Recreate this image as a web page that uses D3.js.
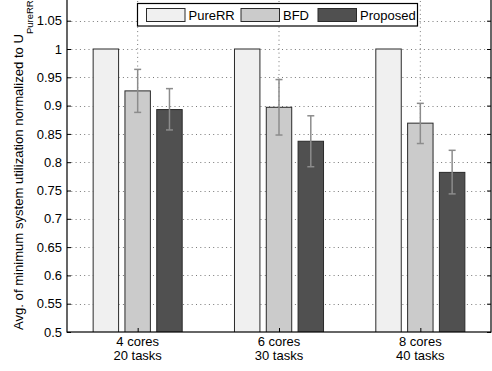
<!DOCTYPE html>
<html><head><meta charset="utf-8">
<script src="https://cdn.jsdelivr.net/npm/d3@7"></script>
<style>body{margin:0;background:#fff}svg{display:block}text{font-family:"Liberation Sans",Arial,sans-serif}</style>
</head><body>
<svg id="c" width="492" height="371"></svg>
<script>
const categories = [["4 cores","20 tasks"],["6 cores","30 tasks"],["8 cores","40 tasks"]];
const seriesNames = ["PureRR","BFD","Proposed"];
const seriesColors = ["#f0f0f0","#cbcbcb","#505050"];
const pureRR = [1,1,1];
const bfd = [0.926,0.897,0.869];
const proposed = [0.893,0.837,0.782];
const pureRRErrLo = [1,1,1];
const pureRRErrHi = [1,1,1];
const bfdErrLo = [0.888,0.848,0.833];
const bfdErrHi = [0.964,0.946,0.904];
const proposedErrLo = [0.857,0.792,0.744];
const proposedErrHi = [0.930,0.882,0.821];
const yTicks = [0.5,0.55,0.6,0.65,0.7,0.75,0.8,0.85,0.9,0.95,1,1.05,1.1];

const series = [
  {name:seriesNames[0], values:pureRR, lo:pureRRErrLo, hi:pureRRErrHi, err:false},
  {name:seriesNames[1], values:bfd, lo:bfdErrLo, hi:bfdErrHi, err:true},
  {name:seriesNames[2], values:proposed, lo:proposedErrLo, hi:proposedErrHi, err:true}
];

const svg = d3.select("#c");
const L=67, R=491, B=332, T=-7.6;
const x = d3.scaleLinear().domain([0.5,3.5]).range([L,R]);
const y = d3.scaleLinear().domain([0.5,1.1]).range([B,T]);
const offsets = [-0.225,0,0.225], bw = 0.18;

svg.append("defs").append("clipPath").attr("id","clip")
  .append("rect").attr("x",L).attr("y",T).attr("width",R-L).attr("height",B-T);

// gridlines
const grid = svg.append("g").attr("stroke","#555").attr("stroke-width",0.8).attr("stroke-dasharray","1,3.3");
grid.selectAll("line.h").data(yTicks.filter(d=>d>0.5&&d<1.1)).join("line")
  .attr("x1",L).attr("x2",R).attr("y1",d=>Math.round(y(d))+0.5).attr("y2",d=>Math.round(y(d))+0.5);
grid.selectAll("line.v").data([1,2,3]).join("line")
  .attr("x1",d=>x(d)).attr("x2",d=>x(d)).attr("y1",T).attr("y2",B);

// bars
const gBars = svg.append("g").attr("clip-path","url(#clip)");
series.forEach((s,si)=>{
  gBars.append("g").selectAll("rect").data(s.values).join("rect")
    .attr("x",(d,i)=>x(i+1+offsets[si]-bw/2))
    .attr("width",x(bw)-x(0))
    .attr("y",d=>y(d))
    .attr("height",d=>B+5-y(d))
    .attr("fill",seriesColors[si]).attr("stroke","#2a2a2a").attr("stroke-width",1);
});
// error bars
const gErr = svg.append("g").attr("stroke","#8c8c8c").attr("stroke-width",1.5);
series.forEach((s,si)=>{
  if(!s.err) return;
  s.values.forEach((v,i)=>{
    const cx = x(i+1+offsets[si]);
    gErr.append("line").attr("x1",cx).attr("x2",cx).attr("y1",y(s.lo[i])).attr("y2",y(s.hi[i]));
    [s.lo[i],s.hi[i]].forEach(e=>{
      gErr.append("line").attr("x1",cx-3.5).attr("x2",cx+3.5).attr("y1",y(e)).attr("y2",y(e));
    });
  });
});

// axes box
svg.append("rect").attr("x",L).attr("y",T).attr("width",R-L).attr("height",B-T)
  .attr("fill","none").attr("stroke","#000").attr("stroke-width",1.2);

const yAxisL = d3.axisLeft(y).tickValues(yTicks).tickSize(-4).tickPadding(5).tickFormat(d=>d3.format("")(+d.toFixed(2)));
const gy = svg.append("g").attr("transform",`translate(${L},0)`).call(yAxisL);
gy.select(".domain").remove();
gy.selectAll("text").attr("font-size",13).attr("fill","#000");
const yAxisR = d3.axisRight(y).tickValues(yTicks).tickSize(-4).tickFormat("");
const gyr = svg.append("g").attr("transform",`translate(${R},0)`).call(yAxisR);
gyr.select(".domain").remove();

const xAxis = d3.axisBottom(x).tickValues([1,2,3]).tickSize(-4).tickFormat("");
const gx = svg.append("g").attr("transform",`translate(0,${B})`).call(xAxis);
gx.select(".domain").remove();
categories.forEach((c,i)=>{
  svg.append("text").attr("x",x(i+1)).attr("y",345.5).attr("text-anchor","middle").attr("font-size",13).text(c[0]);
  svg.append("text").attr("x",x(i+1)).attr("y",360).attr("text-anchor","middle").attr("font-size",13).text(c[1]);
});

// y label
const yl = svg.append("text").attr("transform","translate(22.5,330) rotate(-90)").attr("font-size",13.1).attr("text-anchor","start");
yl.append("tspan").text("Avg. of minimum system utilization normalized to U");
yl.append("tspan").attr("font-size",9.5).attr("dy",10).text("PureRR");

// legend
const lg = svg.append("g");
lg.append("rect").attr("x",137.5).attr("y",3.5).attr("width",280).attr("height",22.5).attr("fill","#fff").attr("stroke","#000").attr("stroke-width",1.2);
const legX = [146.5,241,318];
series.forEach((s,si)=>{
  lg.append("rect").attr("x",legX[si]).attr("y",8.5).attr("width",38.5).attr("height",13)
    .attr("fill",seriesColors[si]).attr("stroke","#2a2a2a").attr("stroke-width",1);
  lg.append("text").attr("x",legX[si]+42).attr("y",19.8).attr("font-size",13).text(s.name);
});
</script>
</body></html>
